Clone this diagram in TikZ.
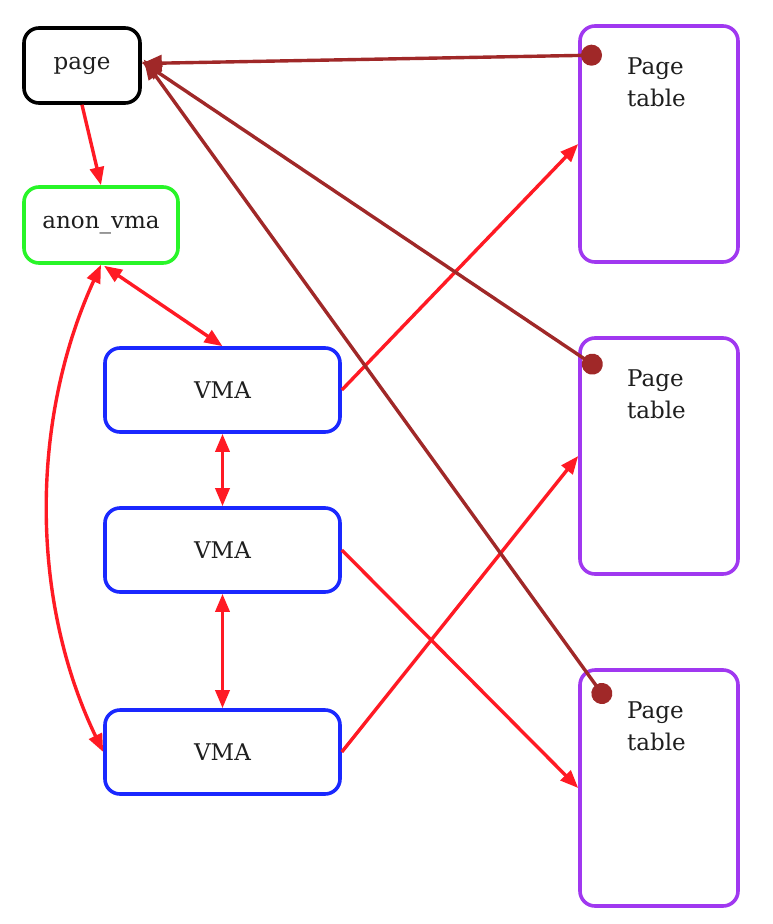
\documentclass[tikz,border=0pt]{standalone}
\usepackage{fontspec}
\setmainfont{DejaVu Serif}
\usetikzlibrary{arrows.meta}
\definecolor{cred}{RGB}{255,26,36}
\definecolor{cbrown}{RGB}{160,40,40}
\definecolor{cgreen}{RGB}{40,245,40}
\definecolor{cblue}{RGB}{26,40,255}
\definecolor{cpurple}{RGB}{160,56,240}
\definecolor{ctext}{RGB}{30,30,30}
\begin{document}
\begin{tikzpicture}[x=1pt,y=-1pt,
  box/.style={draw,line width=3.6pt,rounded corners=15pt,inner sep=0pt,
    font=\fontsize{23}{27}\selectfont,text=ctext},
  ptbox/.style={box,draw=cpurple,minimum width=158pt,minimum height=236pt},
  vmabox/.style={box,draw=cblue,minimum width=235pt,minimum height=84pt},
  redarrow/.style={draw=cred,line width=3.4pt,-{Triangle[length=18pt,width=14pt]}},
  redboth/.style={draw=cred,line width=3.4pt,{Triangle[length=18pt,width=14pt]}-{Triangle[length=18pt,width=14pt]}},
  brownarrow/.style={draw=cbrown,line width=3.4pt,{Circle[length=21pt]}-{Triangle[length=20pt,width=16pt]}},
  pttext/.style={anchor=north west,align=left,inner sep=0pt,font=\fontsize{23}{32}\selectfont,text=ctext}
]
\useasboundingbox (0,0) rectangle (772,924);
\fill[white] (0,0) rectangle (772,924);

\node[box,draw=black,minimum width=116pt,minimum height=75pt] (page) at (82,65.5) {page};
\node[box,draw=cgreen,minimum width=154pt,minimum height=76pt] (anon) at (101,225) {anon\_vma};
\node[vmabox] (vma1) at (222.5,390) {VMA};
\node[vmabox] (vma2) at (222.5,550) {VMA};
\node[vmabox] (vma3) at (222.5,752) {VMA};

\node[ptbox] (pt1) at (659,144) {};
\node[ptbox] (pt2) at (659,456) {};
\node[ptbox] (pt3) at (659,788) {};
\node[pttext] (pt1t) at (627,58) {Page\\table};
\node[pttext] (pt2t) at (627,370) {Page\\table};
\node[pttext] (pt3t) at (627,702) {Page\\table};

\coordinate (d1) at (602,55);
\coordinate (d2) at (601,370);
\coordinate (d3) at (608,702);

\draw[redarrow] (page.south) -- (anon.north);
\draw[redboth] (anon.south) ++(3,1) coordinate (a1) (a1) -- (vma1.north);
\draw[redboth] (vma1.south) -- (vma2.north);
\draw[redboth] (vma2.south) -- (vma3.north);
\draw[redboth] (anon.south) .. controls (30,420) and (30,600) .. (vma3.west);
\draw[redarrow] (vma1.east) -- (pt1.west);
\draw[redarrow] (vma3.east) -- (pt2.west);
\draw[redarrow] (vma2.east) -- (pt3.west);

\draw[brownarrow] (d1) -- ([yshift=2pt]page.east);
\draw[brownarrow] (d2) -- ([yshift=4pt]page.east);
\draw[brownarrow] (d3) -- ([xshift=2pt,yshift=6pt]page.east);
\end{tikzpicture}
\end{document}
